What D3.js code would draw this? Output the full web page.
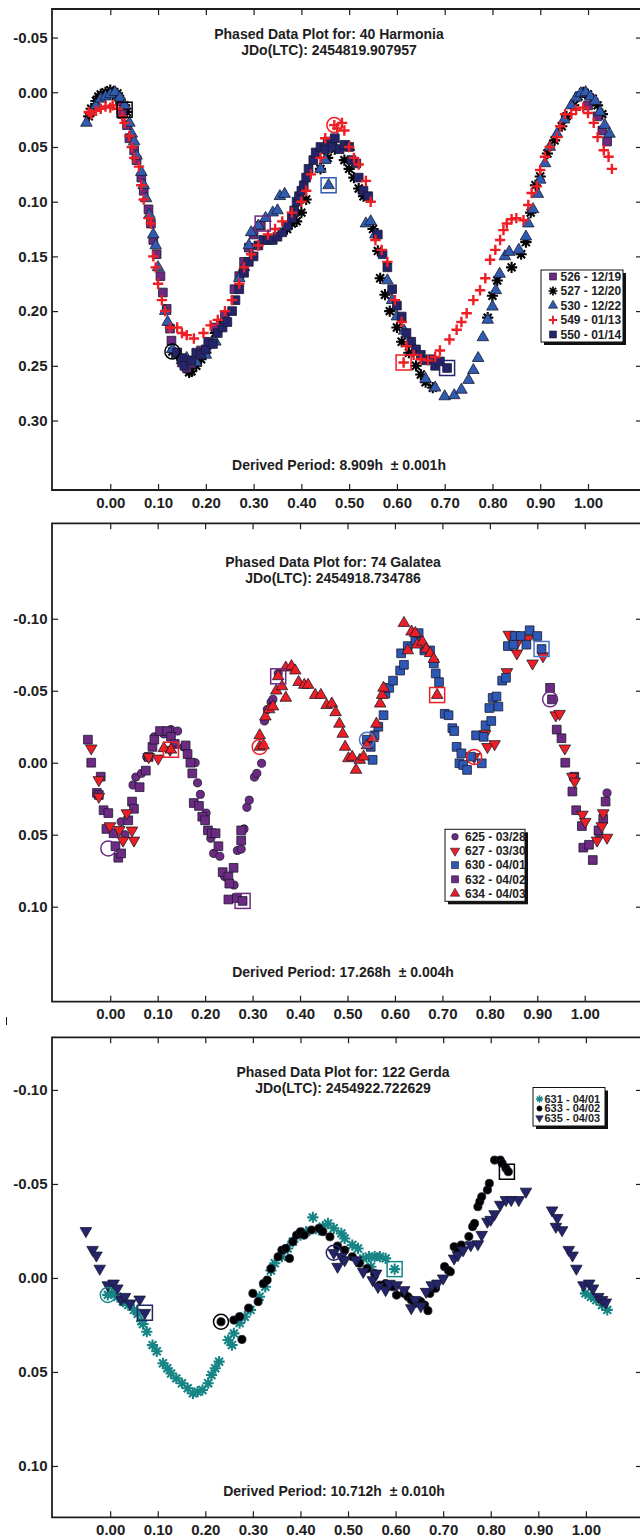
<!DOCTYPE html>
<html>
<head>
<meta charset="utf-8">
<script src="https://cdn.jsdelivr.net/npm/d3@7"></script>
<style>
  body { margin: 0; background: #fff; }
  svg { display: block; font-family: "Liberation Sans", Arial, sans-serif; font-weight: bold; }
</style>
</head>
<body>
<svg id="chart" width="640" height="1537"></svg>
<script>
// ---------- 40 Harmonia ----------
var s526 = [[0.02,0.008],[0.025,0.02],[0.035,0.03],[0.04,0.042],[0.05,0.053],[0.055,0.062],[0.065,0.078],[0.07,0.09],[0.08,0.107],[0.085,0.12],[0.09,0.135],[0.097,0.148],[0.105,0.168],[0.11,0.183],[0.118,0.198],[0.125,0.216],[0.128,0.227],[0.14,0.238],[0.15,0.247],[0.16,0.252],[0.17,0.248],[0.19,0.236],[0.22,0.215],[0.24,0.205],[0.26,0.18],[0.27,0.168],[0.28,0.155],[0.29,0.142],[0.30,0.13],[0.315,0.122],[1.0,0.012],[1.02,0.022],[1.03,0.035],[1.04,0.045]];
var s527 = [[-0.045,0.022],[-0.04,0.015],[-0.03,0.008],[-0.025,0.004],[-0.02,0.002],[-0.01,0.0],[0.0,-0.002],[0.005,0.002],[0.015,0.001],[0.02,0.006],[0.03,0.012],[0.035,0.018],[0.13,0.237],[0.14,0.24],[0.15,0.245],[0.16,0.25],[0.165,0.256],[0.17,0.255],[0.18,0.25],[0.19,0.244],[0.2,0.238],[0.21,0.23],[0.22,0.22],[0.23,0.212],[0.37,0.125],[0.38,0.12],[0.39,0.118],[0.4,0.11],[0.41,0.098],[0.44,0.07],[0.455,0.06],[0.47,0.052],[0.49,0.062],[0.5,0.07],[0.51,0.078],[0.52,0.088],[0.53,0.095],[0.55,0.125],[0.56,0.145],[0.565,0.17],[0.575,0.185],[0.585,0.2],[0.6,0.215],[0.61,0.228],[0.625,0.238],[0.64,0.25],[0.65,0.258],[0.66,0.265],[0.675,0.27],[0.79,0.206],[0.80,0.186],[0.81,0.172],[0.84,0.16],[0.86,0.148],[0.87,0.137],[0.88,0.11],[0.89,0.085],[0.9,0.077],[0.915,0.056],[0.93,0.044],[0.945,0.031],[0.955,0.022],[0.97,0.012],[0.98,0.004],[0.99,0.0],[1.0,0.002],[1.01,0.006],[1.02,0.012],[1.03,0.02]];
var s530 = [[-0.05,0.028],[-0.04,0.018],[-0.03,0.012],[-0.02,0.006],[-0.01,0.004],[0.0,0.002],[0.01,0.0],[0.02,0.005],[0.03,0.012],[0.04,0.028],[0.045,0.038],[0.05,0.045],[0.055,0.058],[0.065,0.073],[0.07,0.085],[0.075,0.097],[0.082,0.112],[0.09,0.13],[0.095,0.14],[0.1,0.16],[0.115,0.2],[0.12,0.21],[0.13,0.235],[0.14,0.24],[0.15,0.245],[0.16,0.243],[0.18,0.247],[0.2,0.24],[0.22,0.228],[0.24,0.21],[0.27,0.17],[0.28,0.16],[0.29,0.14],[0.295,0.128],[0.31,0.122],[0.325,0.115],[0.34,0.11],[0.35,0.108],[0.355,0.095],[0.365,0.093],[0.44,0.07],[0.45,0.062],[0.457,0.085],[0.47,0.05],[0.5,0.05],[0.535,0.12],[0.545,0.118],[0.555,0.13],[0.58,0.172],[0.59,0.19],[0.6,0.205],[0.615,0.218],[0.63,0.23],[0.66,0.262],[0.68,0.27],[0.7,0.278],[0.72,0.277],[0.735,0.272],[0.75,0.263],[0.76,0.254],[0.77,0.243],[0.78,0.224],[0.79,0.208],[0.8,0.196],[0.807,0.181],[0.815,0.166],[0.826,0.15],[0.835,0.146],[0.855,0.144],[0.87,0.132],[0.875,0.12],[0.885,0.107],[0.895,0.093],[0.9,0.08],[0.91,0.065],[0.92,0.05],[0.935,0.038],[0.95,0.025],[0.965,0.012],[0.975,0.005],[0.985,0.001],[0.995,0.0],[1.005,0.004],[1.015,0.008],[1.025,0.018],[1.035,0.03],[1.045,0.038]];
var s549 = [[-0.045,0.018],[-0.04,0.02],[-0.03,0.017],[-0.02,0.015],[-0.01,0.013],[0.0,0.014],[0.005,0.012],[0.015,0.015],[0.025,0.022],[0.03,0.028],[0.04,0.04],[0.045,0.05],[0.05,0.06],[0.06,0.068],[0.065,0.085],[0.07,0.098],[0.08,0.115],[0.085,0.12],[0.09,0.15],[0.095,0.16],[0.1,0.175],[0.108,0.19],[0.115,0.2],[0.125,0.215],[0.14,0.215],[0.15,0.22],[0.16,0.222],[0.175,0.225],[0.195,0.22],[0.21,0.213],[0.225,0.208],[0.24,0.2],[0.255,0.19],[0.27,0.175],[0.28,0.16],[0.295,0.148],[0.31,0.14],[0.33,0.13],[0.345,0.125],[0.36,0.118],[0.38,0.11],[0.4,0.1],[0.41,0.09],[0.42,0.075],[0.44,0.06],[0.45,0.042],[0.469,0.03],[0.475,0.033],[0.485,0.028],[0.49,0.035],[0.5,0.05],[0.51,0.06],[0.52,0.066],[0.535,0.081],[0.545,0.1],[0.555,0.135],[0.568,0.144],[0.58,0.155],[0.596,0.19],[0.61,0.21],[0.614,0.247],[0.62,0.232],[0.635,0.24],[0.65,0.244],[0.665,0.245],[0.68,0.242],[0.69,0.236],[0.71,0.226],[0.725,0.217],[0.735,0.21],[0.746,0.202],[0.76,0.19],[0.774,0.181],[0.785,0.17],[0.795,0.153],[0.806,0.144],[0.816,0.135],[0.823,0.126],[0.83,0.12],[0.84,0.116],[0.85,0.115],[0.865,0.117],[0.875,0.103],[0.882,0.092],[0.893,0.086],[0.9,0.071],[0.91,0.059],[0.92,0.05],[0.935,0.041],[0.942,0.031],[0.952,0.02],[0.965,0.02],[0.975,0.016],[0.99,0.014],[1.0,0.019],[1.012,0.028],[1.02,0.041],[1.033,0.053],[1.043,0.059],[1.05,0.07]];
var s550 = [[0.14,0.238],[0.15,0.243],[0.155,0.25],[0.17,0.245],[0.18,0.238],[0.19,0.24],[0.2,0.235],[0.205,0.228],[0.215,0.23],[0.225,0.22],[0.235,0.215],[0.245,0.21],[0.255,0.2],[0.262,0.19],[0.27,0.18],[0.28,0.165],[0.29,0.155],[0.3,0.15],[0.31,0.14],[0.32,0.135],[0.33,0.135],[0.34,0.135],[0.35,0.132],[0.36,0.128],[0.37,0.122],[0.38,0.115],[0.385,0.108],[0.39,0.1],[0.395,0.095],[0.4,0.09],[0.405,0.085],[0.41,0.078],[0.415,0.07],[0.425,0.062],[0.43,0.055],[0.44,0.05],[0.45,0.052],[0.455,0.045],[0.465,0.05],[0.47,0.042],[0.48,0.052],[0.49,0.048],[0.5,0.05],[0.505,0.062],[0.515,0.065],[0.52,0.078],[0.53,0.09],[0.54,0.095],[0.56,0.13],[0.57,0.148],[0.58,0.16],[0.59,0.18],[0.6,0.195],[0.61,0.205],[0.62,0.22],[0.63,0.228],[0.64,0.235],[0.65,0.24],[0.66,0.245],[0.67,0.244],[0.68,0.25],[0.69,0.246],[0.705,0.252]];
var p1Labels = ['526 - 12/19', '527 - 12/20', '530 - 12/22', '549 - 01/13', '550 - 01/14'];
// first / last point rings: [series label, phase, mag, ring]
var p1Rings = [['527 - 12/20',0.03,0.016,'square'],['527 - 12/20',0.13,0.237,'circle'],['526 - 12/19',0.319,0.12,'square'],['530 - 12/22',0.457,0.085,'square'],['549 - 01/13',0.469,0.03,'circle'],['549 - 01/13',0.614,0.247,'square'],['550 - 01/14',0.705,0.252,'square']];
var p1YTicks = [-0.05, 0, 0.05, 0.10, 0.15, 0.20, 0.25, 0.30];

// ---------- 74 Galatea ----------
var s625 = [[0.023,0.041],[0.031,0.05],[0.048,0.0155],[0.054,0.01],[0.066,0.0074],[0.077,-0.004],[0.093,-0.018],[0.113,-0.02],[0.128,-0.023],[0.142,-0.022],[0.155,-0.011],[0.179,0.0],[0.184,0.014],[0.19,0.022],[0.202,0.035],[0.212,0.0525],[0.218,0.063],[0.231,0.065],[0.241,0.079],[0.261,0.085],[0.268,0.061],[0.276,0.06],[0.282,0.046],[0.288,0.031],[0.293,0.026],[0.304,0.01],[0.309,0.0074],[0.319,0.0004],[0.325,-0.029],[0.331,-0.037],[0.339,-0.042],[0.343,-0.044],[0.354,-0.062],[1.029,0.049],[1.047,0.021]];
var s627 = [[-0.04,-0.01],[-0.024,0.012],[-0.024,0.0236],[-0.0005,0.044],[0.019,0.0467],[0.027,0.054],[0.035,0.035],[0.046,0.047],[0.05,0.054],[0.081,-0.004],[0.101,-0.003],[0.126,-0.009],[0.767,-0.004],[0.79,-0.02],[0.795,-0.011],[0.81,-0.013],[0.836,-0.063],[0.84,-0.089],[0.857,-0.076],[0.857,-0.083],[0.88,-0.086],[0.89,-0.069],[0.912,-0.074],[0.939,-0.033],[0.947,-0.034],[0.958,-0.01],[0.974,0.0097],[0.979,0.013],[0.995,0.036],[1.001,0.041],[1.026,0.054],[1.036,0.044],[1.039,0.035],[1.047,0.052]];
var s630 = [[0.541,-0.016],[0.549,-0.011],[0.553,-0.002],[0.557,-0.019],[0.565,-0.025],[0.576,-0.033],[0.58,-0.048],[0.588,-0.052],[0.596,-0.057],[0.611,-0.064],[0.613,-0.076],[0.619,-0.068],[0.627,-0.081],[0.643,-0.085],[0.65,-0.09],[0.662,-0.078],[0.674,-0.078],[0.682,-0.069],[0.686,-0.062],[0.693,-0.056],[0.705,-0.034],[0.713,-0.033],[0.721,-0.024],[0.725,-0.022],[0.73,-0.011],[0.736,0.0004],[0.74,-0.0065],[0.744,0.0016],[0.752,0.005],[0.76,-0.0042],[0.771,-0.019],[0.783,0.0004],[0.787,-0.018],[0.791,-0.026],[0.799,-0.038],[0.803,-0.029],[0.806,-0.045],[0.814,-0.046],[0.818,-0.039],[0.826,-0.057],[0.834,-0.059],[0.838,-0.081],[0.85,-0.082],[0.853,-0.088],[0.865,-0.088],[0.877,-0.082],[0.884,-0.092],[0.9,-0.088],[0.909,-0.079]];
var s632 = [[-0.047,-0.016],[-0.04,0.0],[-0.028,0.021],[-0.024,0.0224],[-0.02,0.0097],[-0.014,0.033],[-0.008,0.046],[-0.004,0.035],[0.007,0.049],[0.011,0.058],[0.017,0.066],[0.023,0.063],[0.038,0.04],[0.046,0.027],[0.05,0.032],[0.062,0.017],[0.075,0.0055],[0.081,-0.004],[0.089,-0.011],[0.093,-0.016],[0.105,-0.022],[0.12,-0.022],[0.128,-0.018],[0.136,-0.013],[0.159,-0.012],[0.163,-0.006],[0.169,0.0],[0.173,0.0074],[0.176,0.028],[0.187,0.03],[0.194,0.0375],[0.2,0.04],[0.206,0.047],[0.214,0.049],[0.222,0.049],[0.228,0.058],[0.237,0.076],[0.249,0.079],[0.251,0.084],[0.26,0.073],[0.249,0.095],[0.267,0.094],[0.276,0.054],[0.276,0.047],[0.279,0.096],[0.927,-0.052],[0.931,-0.044],[0.941,-0.023],[0.951,-0.017],[0.959,0.0],[0.974,0.02],[0.978,0.0097],[0.982,0.033],[0.994,0.044],[0.997,0.059],[1.009,0.057],[1.017,0.0676],[1.029,0.047],[1.039,0.039],[1.044,0.027]];
var s634 = [[0.113,-0.01],[0.128,-0.009],[0.315,-0.019],[0.315,-0.011],[0.323,-0.012],[0.327,-0.032],[0.335,-0.037],[0.343,-0.039],[0.35,-0.05],[0.354,-0.06],[0.362,-0.053],[0.37,-0.045],[0.37,-0.066],[0.382,-0.067],[0.39,-0.064],[0.397,-0.056],[0.409,-0.054],[0.417,-0.054],[0.432,-0.047],[0.444,-0.047],[0.456,-0.04],[0.467,-0.041],[0.475,-0.035],[0.483,-0.027],[0.49,-0.02],[0.495,-0.011],[0.502,-0.003],[0.51,-0.004],[0.518,0.005],[0.526,-0.0019],[0.534,-0.0042],[0.541,-0.012],[0.553,-0.017],[0.561,-0.027],[0.569,-0.041],[0.573,-0.047],[0.576,-0.052],[0.619,-0.097],[0.627,-0.078],[0.635,-0.091],[0.643,-0.09],[0.647,-0.082],[0.658,-0.084],[0.666,-0.079],[0.674,-0.076],[0.682,-0.072],[0.689,-0.047]];
var p2Labels = ['625 - 03/28', '627 - 03/30', '630 - 04/01', '632 - 04/02', '634 - 04/03'];
var p2Rings = [['625 - 03/28',-0.004,0.0595,'circle'],['632 - 04/02',0.927,-0.044,'circle'],['632 - 04/02',0.279,0.096,'square'],['632 - 04/02',0.354,-0.06,'square'],['634 - 04/03',0.128,-0.009,'square'],['634 - 04/03',0.315,-0.011,'circle'],['634 - 04/03',0.689,-0.047,'square'],['627 - 03/30',0.767,-0.004,'circle'],['630 - 04/01',0.541,-0.016,'circle'],['630 - 04/01',0.909,-0.079,'square']];
var p2YTicks = [-0.10, -0.05, 0, 0.05, 0.10];

// ---------- 122 Gerda ----------
var s631 = [[-0.005,0.009],[0.003,0.008],[0.015,0.01],[0.027,0.0126],[0.038,0.0144],[0.05,0.017],[0.058,0.019],[0.066,0.023],[0.069,0.0245],[0.077,0.0286],[0.089,0.0357],[0.098,0.039],[0.111,0.0454],[0.12,0.048],[0.128,0.0508],[0.139,0.0534],[0.151,0.056],[0.163,0.0587],[0.174,0.0614],[0.184,0.0605],[0.194,0.0596],[0.206,0.056],[0.213,0.0516],[0.221,0.048],[0.229,0.0445],[0.248,0.033],[0.256,0.0357],[0.26,0.0295],[0.272,0.024],[0.283,0.0206],[0.295,0.017],[0.314,0.01],[0.326,0.0047],[0.338,-0.004],[0.346,-0.0078],[0.361,-0.0113],[0.373,-0.0157],[0.384,-0.0193],[0.4,-0.0228],[0.412,-0.0246],[0.426,-0.0322],[0.439,-0.0255],[0.447,-0.0273],[0.458,-0.029],[0.47,-0.0264],[0.486,-0.0237],[0.493,-0.021],[0.509,-0.0175],[0.521,-0.0157],[0.532,-0.0104],[0.544,-0.0113],[0.548,-0.006],[0.556,-0.0113],[0.567,-0.0113],[0.579,-0.0104],[0.598,-0.0047],[0.999,0.0082],[1.011,0.01],[1.022,0.0117],[1.034,0.0144],[1.045,0.017]];
var s633 = [[0.233,0.0233],[0.26,0.0224],[0.272,0.0206],[0.277,0.0327],[0.291,0.016],[0.3,0.0082],[0.311,0.0126],[0.322,0.003],[0.33,0.0011],[0.338,-0.005],[0.353,-0.0113],[0.361,-0.0148],[0.369,-0.0157],[0.377,-0.0104],[0.384,-0.0193],[0.392,-0.0228],[0.4,-0.0246],[0.408,-0.0228],[0.423,-0.0255],[0.439,-0.0264],[0.447,-0.0246],[0.462,-0.0219],[0.478,-0.017],[0.493,-0.0148],[0.509,-0.0113],[0.524,-0.0078],[0.54,-0.005],[0.556,-0.0024],[0.567,0.0038],[0.579,0.003],[0.594,0.0047],[0.602,0.0091],[0.618,0.0082],[0.626,0.01],[0.633,0.0117],[0.641,0.0135],[0.653,0.0126],[0.661,0.0144],[0.668,0.0174],[0.672,0.0082],[0.684,0.0055],[0.703,-0.006],[0.711,-0.004],[0.715,-0.0033],[0.723,-0.0166],[0.731,-0.014],[0.738,-0.0175],[0.754,-0.022],[0.762,-0.0273],[0.766,-0.029],[0.773,-0.0379],[0.777,-0.0406],[0.781,-0.0432],[0.793,-0.0468],[0.797,-0.0503],[0.808,-0.0627],[0.82,-0.0627],[0.824,-0.061],[0.832,-0.0583],[0.837,-0.0565]];
var s635 = [[-0.051,-0.025],[-0.037,-0.015],[-0.029,-0.012],[-0.022,-0.005],[-0.005,0.0038],[0.007,0.0029],[0.015,0.0055],[0.023,0.0114],[0.031,0.01],[0.042,0.0135],[0.062,0.0114],[0.073,0.0185],[0.47,-0.0134],[0.478,-0.006],[0.486,-0.0113],[0.493,-0.0095],[0.517,-0.0095],[0.532,-0.0033],[0.552,0.0011],[0.559,-0.0024],[0.563,0.0047],[0.579,0.0064],[0.587,0.003],[0.602,0.0038],[0.618,0.0064],[0.633,0.016],[0.641,0.0117],[0.653,0.015],[0.664,0.0073],[0.676,0.0038],[0.688,0.0029],[0.7,0.0002],[0.723,-0.0104],[0.731,-0.0122],[0.742,-0.0148],[0.758,-0.0175],[0.773,-0.018],[0.781,-0.023],[0.793,-0.03],[0.8,-0.031],[0.808,-0.034],[0.82,-0.039],[0.832,-0.0415],[0.843,-0.0415],[0.859,-0.0415],[0.874,-0.046],[0.929,-0.036],[0.937,-0.0273],[0.94,-0.032],[0.95,-0.0255],[0.964,-0.015],[0.972,-0.012],[0.98,-0.005],[0.995,0.0038],[1.007,0.0029],[1.015,0.0055],[1.026,0.01],[1.034,0.0117],[1.042,0.013]];
var p3Labels = ['631 - 04/01', '633 - 04/02', '635 - 04/03'];
var p3Rings = [['631 - 04/01',-0.005,0.009,'circle'],['631 - 04/01',0.598,-0.0047,'square'],['635 - 04/03',0.073,0.0185,'square'],['635 - 04/03',0.47,-0.0134,'circle'],['633 - 04/02',0.233,0.0233,'circle'],['633 - 04/02',0.834,-0.0565,'square']];
var p3YTicks = [-0.10, -0.05, 0, 0.05, 0.10];

var xTicks = [0, 0.1, 0.2, 0.3, 0.4, 0.5, 0.6, 0.7, 0.8, 0.9, 1.0];

var svg = d3.select('#chart');
var ink = '#1e1e1e';

function plusPath(r) {
  var p = d3.path();
  p.moveTo(-r, 0); p.lineTo(r, 0);
  p.moveTo(0, -r); p.lineTo(0, r);
  return p.toString();
}
function starPath(r) {
  var p = d3.path();
  for (var i = 0; i < 4; i++) {
    var a = i * Math.PI / 4;
    p.moveTo(-r * Math.cos(a), -r * Math.sin(a));
    p.lineTo(r * Math.cos(a), r * Math.sin(a));
  }
  return p.toString();
}

var shapes = {
  square:  { d: d3.symbol(d3.symbolSquare, 76)(), rot: 0, line: false },
  triUp:   { d: d3.symbol(d3.symbolTriangle, 58)(), rot: 0, line: false },
  triDown: { d: d3.symbol(d3.symbolTriangle, 58)(), rot: 180, line: false },
  circle:  { d: d3.symbol(d3.symbolCircle, 52)(), rot: 0, line: false },
  plus:    { d: plusPath(5.2), rot: 0, line: true },
  star:    { d: starPath(5.6), rot: 0, line: true }
};

function markAt(g, x, y, st, scale) {
  var sh = shapes[st.shape];
  var m = g.append('path')
    .attr('d', sh.d)
    .attr('transform', 'translate(' + x + ',' + y + ')' + (sh.rot ? ' rotate(' + sh.rot + ')' : '') + (scale ? ' scale(' + scale + ')' : ''));
  if (sh.line) {
    m.attr('fill', 'none').attr('stroke', st.color).attr('stroke-width', st.sw || 2.2);
  } else {
    m.attr('fill', st.color).attr('stroke', st.edge || '#1b1b2e').attr('stroke-width', 0.8);
  }
}

function fmt(v) {
  var s = Math.abs(v).toFixed(2);
  return (v < -1e-9 ? '-' : '') + s;
}

function drawPanel(p) {
  var g = svg.append('g');
  var x = d3.scaleLinear().domain(p.xDomain).range([p.left, p.right]);
  var y = d3.scaleLinear().domain(p.yDomain).range([p.top, p.bottom]);

  // ticks (inward on all four sides)
  var axB = g.append('g').attr('transform', 'translate(0,' + p.bottom + ')')
    .call(d3.axisBottom(x).tickValues(xTicks).tickSize(-6).tickPadding(7).tickFormat(d3.format('.2f')));
  var axT = g.append('g').attr('transform', 'translate(0,' + p.top + ')')
    .call(d3.axisTop(x).tickValues(xTicks).tickSize(-6).tickFormat(''));
  var axL = g.append('g').attr('transform', 'translate(' + p.left + ',0)')
    .call(d3.axisLeft(y).tickValues(p.yTicks).tickSize(-6).tickPadding(4.5).tickFormat(fmt));
  var axR = g.append('g').attr('transform', 'translate(' + p.right + ',0)')
    .call(d3.axisRight(y).tickValues(p.yTicks).tickSize(-6).tickFormat(''));
  [axB, axT, axL, axR].forEach(function (a) {
    a.select('.domain').remove();
    a.selectAll('line').attr('stroke', ink).attr('stroke-width', 1.2);
    a.selectAll('text').attr('fill', ink).attr('font-size', 15)
      .attr('font-family', '"Liberation Sans", Arial, sans-serif').attr('font-weight', 'bold');
  });

  // frame
  g.append('path')
    .attr('d', 'M' + p.right + ',' + p.top + 'H' + p.left + 'V' + p.bottom + 'H' + p.right + 'Z')
    .attr('fill', 'none').attr('stroke', ink).attr('stroke-width', 1.8);

  // titles
  g.append('text').attr('x', p.titleX).attr('y', p.titleY).attr('text-anchor', 'middle')
    .attr('font-size', 14).attr('fill', ink).text(p.title);
  g.append('text').attr('x', p.titleX).attr('y', p.titleY + 16).attr('text-anchor', 'middle')
    .attr('font-size', 14).attr('fill', ink).text(p.jd);
  g.append('text').attr('x', p.periodX).attr('y', p.periodY).attr('text-anchor', 'middle')
    .attr('font-size', 14).attr('fill', ink).style('white-space', 'pre').text(p.period);

  // points
  var pts = g.append('g');
  p.order.forEach(function (i) {
    var st = p.styles[i];
    p.data[i].forEach(function (d) { markAt(pts, x(d[0]), y(d[1]), st); });
  });

  // rings around first/last points
  p.rings.forEach(function (r) {
    var st = p.styles[p.labels.indexOf(r[0])];
    var col = st.ring || st.color;
    var cx = x(r[1]), cy = y(r[2]);
    if (r[3] === 'square') {
      g.append('rect').attr('x', cx - 7.5).attr('y', cy - 7.5).attr('width', 15).attr('height', 15)
        .attr('fill', 'none').attr('stroke', col).attr('stroke-width', 1.5);
    } else {
      g.append('circle').attr('cx', cx).attr('cy', cy).attr('r', 7.5)
        .attr('fill', 'none').attr('stroke', col).attr('stroke-width', 1.5);
    }
  });

  // legend
  var L = p.legend;
  var lg = g.append('g');
  lg.append('rect').attr('x', L.x + 3).attr('y', L.y + 3).attr('width', L.w).attr('height', L.h).attr('fill', '#111');
  lg.append('rect').attr('x', L.x).attr('y', L.y).attr('width', L.w).attr('height', L.h)
    .attr('fill', '#fff').attr('stroke', '#111').attr('stroke-width', 1);
  p.labels.forEach(function (lab, i) {
    var cy = L.y + L.first + i * L.step;
    markAt(lg, L.x + L.sym, cy, p.styles[i], L.ms);
    lg.append('text').attr('x', L.x + L.text).attr('y', cy + L.fs * 0.36)
      .attr('font-size', L.fs).attr('fill', ink).text(lab);
  });
}

var purple = '#6c2a82', navy = '#24246c', blue = '#2f5bb0', red = '#ee1f24', teal = '#178585';

drawPanel({
  left: 52, right: 642, top: 9, bottom: 490,
  xDomain: [-0.122, 1.113], yDomain: [-0.0761, 0.3635], yTicks: p1YTicks,
  title: 'Phased Data Plot for: 40 Harmonia', jd: 'JDo(LTC): 2454819.907957', titleX: 329, titleY: 39,
  period: 'Derived Period: 8.909h  \u00b1 0.001h', periodX: 339, periodY: 470,
  labels: p1Labels, data: [s526, s527, s530, s549, s550],
  styles: [
    { shape: 'square', color: purple },
    { shape: 'star', color: '#000', sw: 2.1 },
    { shape: 'triUp', color: blue },
    { shape: 'plus', color: red, sw: 2.4 },
    { shape: 'square', color: navy }
  ],
  order: [1, 0, 2, 4, 3],
  rings: p1Rings,
  legend: { x: 541, y: 270, w: 82, h: 72, first: 6.5, step: 14.5, sym: 12, text: 19.5, fs: 12, ms: 0.8 }
});

drawPanel({
  left: 52, right: 642, top: 523.3, bottom: 1001.7,
  xDomain: [-0.1227, 1.1207], yDomain: [-0.1663, 0.166], yTicks: p2YTicks,
  title: 'Phased Data Plot for: 74 Galatea', jd: 'JDo(LTC): 2454918.734786', titleX: 333, titleY: 566.5,
  period: 'Derived Period: 17.268h  \u00b1 0.004h', periodX: 343, periodY: 977,
  labels: p2Labels, data: [s625, s627, s630, s632, s634],
  styles: [
    { shape: 'circle', color: purple },
    { shape: 'triDown', color: red },
    { shape: 'square', color: '#2d58b5', ring: '#4a74c9' },
    { shape: 'square', color: purple },
    { shape: 'triUp', color: red }
  ],
  order: [0, 3, 1, 2, 4],
  rings: p2Rings,
  legend: { x: 445, y: 829.3, w: 80, h: 72, first: 7.4, step: 14.2, sym: 10, text: 20, fs: 12, ms: 0.8 }
});

drawPanel({
  left: 52, right: 642, top: 1037.3, bottom: 1517.3,
  xDomain: [-0.1223, 1.118], yDomain: [-0.128, 0.1273], yTicks: p3YTicks,
  title: 'Phased Data Plot for: 122 Gerda', jd: 'JDo(LTC): 2454922.722629', titleX: 343, titleY: 1077,
  period: 'Derived Period: 10.712h  \u00b1 0.010h', periodX: 334, periodY: 1496,
  labels: p3Labels, data: [s631, s633, s635],
  styles: [
    { shape: 'star', color: teal, sw: 2.1 },
    { shape: 'circle', color: '#000' },
    { shape: 'triDown', color: navy }
  ],
  order: [0, 1, 2],
  rings: p3Rings,
  legend: { x: 533, y: 1087.5, w: 72, h: 38.5, first: 11.5, step: 9.5, sym: 6.5, text: 11.5, fs: 11, ms: 0.65 }
});

// stray mark at the left edge between the 2nd and 3rd plots
svg.append('line').attr('x1', 6.5).attr('x2', 6.5).attr('y1', 1017).attr('y2', 1025)
  .attr('stroke', ink).attr('stroke-width', 1);
</script>
</body>
</html>
